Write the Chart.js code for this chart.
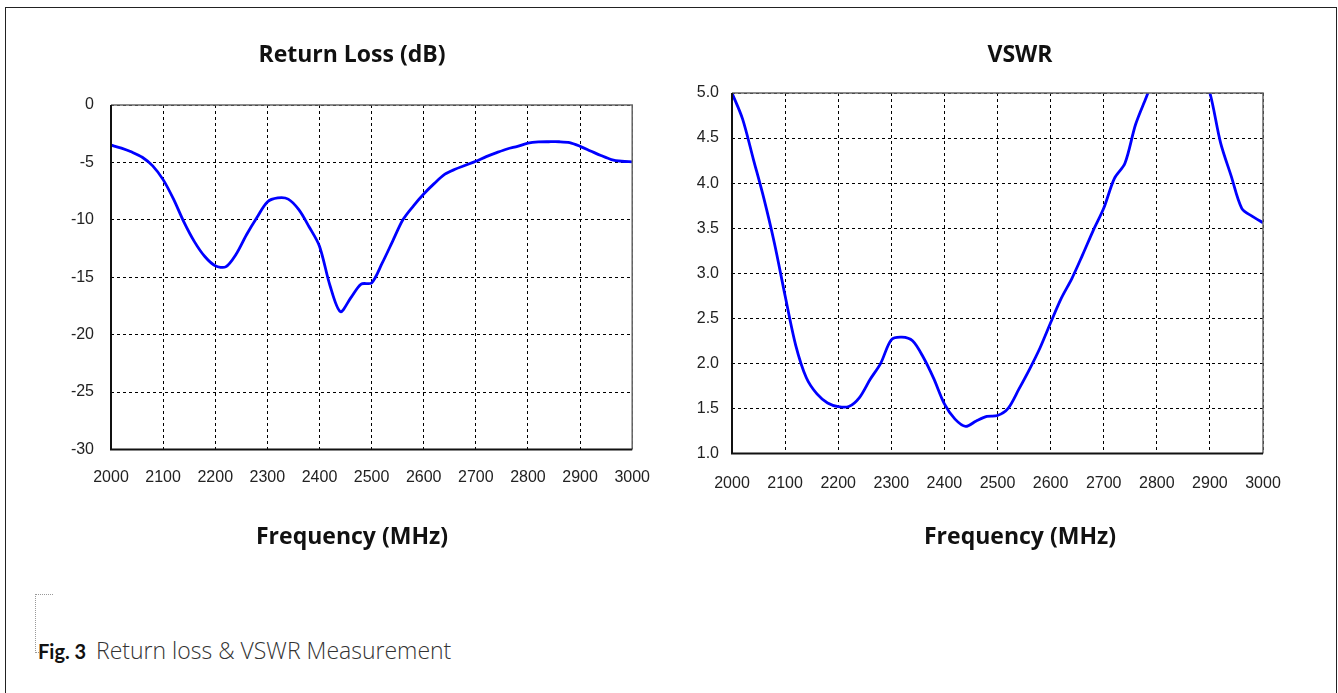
<!DOCTYPE html>
<html>
<head>
<meta charset="utf-8">
<script src="https://cdn.jsdelivr.net/npm/chart.js@4"></script>
<style>
  html, body { margin: 0; padding: 0; background: #fff; overflow: hidden; }
  body { width: 1338px; height: 693px; position: relative; }
  #frame { position: absolute; left: 5px; top: 7px; width: 1330px; height: 720px; border: 1px solid #222; }
  #leftBox { position: absolute; left: 0; top: 0; width: 669px; height: 580px; }
  #rightBox { position: absolute; left: 669px; top: 0; width: 720px; height: 580px; }
  .bracketTop { position: absolute; left: 35px; top: 594px; width: 18px; border-top: 1px dotted #999; }
  .bracketSide { position: absolute; left: 35px; top: 594px; width: 5px; height: 58px; border-left: 1px dotted #999; border-bottom: 1px dotted #999; }
  #caption { position: absolute; left: 38px; top: 637px; line-height: 26px; white-space: nowrap; }
  #caption b { font-family: Lato, sans-serif; font-size: 20px; color: #111; display: inline-block; width: 58px; }
  #caption span { font-family: "Open Sans", sans-serif; font-weight: 300; font-size: 23px; color: #333; }
</style>
</head>
<body>
<div id="frame"></div>
<div id="leftBox"><canvas id="lossChart"></canvas></div>
<div id="rightBox"><canvas id="vswrChart"></canvas></div>
<div class="bracketTop"></div>
<div class="bracketSide"></div>
<div id="caption"><b>Fig. 3</b><span>Return loss &amp; VSWR Measurement</span></div>
<script>
// frequency samples (MHz)
const freqs = [2000, 2020, 2040, 2060, 2080, 2100, 2120, 2140, 2160, 2180,
  2200, 2220, 2240, 2260, 2280, 2300, 2320, 2340, 2360, 2380,
  2400, 2420, 2440, 2460, 2480, 2500, 2520, 2540, 2560, 2580,
  2600, 2620, 2640, 2660, 2680, 2700, 2720, 2740, 2760, 2780,
  2800, 2820, 2840, 2860, 2880, 2900, 2920, 2940, 2960, 2980, 3000];

// return loss (dB)
const returnLoss = [-3.5, -3.75, -4.1, -4.55, -5.3, -6.5, -8.2, -10.2, -11.9, -13.2,
  -14.0, -14.1, -13.0, -11.3, -9.8, -8.45, -8.1, -8.2, -9.1, -10.6,
  -12.3, -15.7, -18.0, -16.8, -15.6, -15.5, -13.8, -11.9, -10.0, -8.8,
  -7.75, -6.85, -6.05, -5.6, -5.25, -4.9, -4.5, -4.15, -3.83, -3.6,
  -3.33, -3.22, -3.2, -3.2, -3.28, -3.6, -4.0, -4.4, -4.75, -4.9, -4.95];

// VSWR (goes off the top of the plot around 2800-2900)
const vswr = [5.0, 4.71, 4.27, 3.83, 3.33, 2.75, 2.2, 1.84, 1.66, 1.56,
  1.52, 1.52, 1.62, 1.82, 2.0, 2.26, 2.29, 2.25, 2.07, 1.83,
  1.55, 1.38, 1.3, 1.36, 1.41, 1.42, 1.5, 1.71, 1.93, 2.17,
  2.45, 2.72, 2.94, 3.2, 3.47, 3.72, 4.05, 4.22, 4.65, 4.95,
  5.25, 5.45, 5.5, 5.5, 5.3, 5.0, 4.45, 4.08, 3.72, 3.63, 3.56];

const freqTicks = [2000, 2100, 2200, 2300, 2400, 2500, 2600, 2700, 2800, 2900, 3000];
const lossTicks = [-30, -25, -20, -15, -10, -5, 0];
const vswrTicks = [1.0, 1.5, 2.0, 2.5, 3.0, 3.5, 4.0, 4.5, 5.0];

const tickFont = { family: 'Liberation Sans, Arial, sans-serif', size: 16 };
const headFont = { family: '"Open Sans", Lato, sans-serif', size: 23, weight: 'bold', lineHeight: 1.2 };

// plot frame: dark left/bottom, grey top/right
const framePlugin = {
  id: 'frame',
  afterDatasetsDraw(chart) {
    const { ctx, chartArea: a } = chart;
    ctx.save();
    ctx.lineWidth = 1.5;
    ctx.strokeStyle = '#666';
    ctx.beginPath();
    ctx.moveTo(a.left, a.top);
    ctx.lineTo(a.right, a.top);
    ctx.lineTo(a.right, a.bottom);
    ctx.stroke();
    ctx.lineWidth = 2;
    ctx.strokeStyle = '#111';
    ctx.beginPath();
    ctx.moveTo(a.left, a.top);
    ctx.lineTo(a.left, a.bottom);
    ctx.lineTo(a.right, a.bottom);
    ctx.stroke();
    ctx.restore();
  }
};

function points(ys) {
  return freqs.map((f, i) => ({ x: f, y: ys[i] }));
}

function makeChart(id, opts) {
  const scales = {
    x: {
      type: 'linear',
      min: 2000,
      max: 3000,
      afterBuildTicks: s => { s.ticks = freqTicks.map(v => ({ value: v })); },
      afterFit: s => { s.height = opts.xHeight; },
      grid: { color: '#000', lineWidth: 1, drawTicks: false },
      border: { display: false, dash: [3, 3] },
      ticks: { color: '#222', font: tickFont, padding: opts.xPad, maxRotation: 0, callback: v => String(v) }
    },
    y: {
      type: 'linear',
      min: opts.yTicks[0],
      max: opts.yTicks[opts.yTicks.length - 1],
      afterBuildTicks: s => { s.ticks = opts.yTicks.map(v => ({ value: v })); },
      afterFit: s => { s.width = opts.yWidth; },
      grid: { color: '#000', lineWidth: 1, drawTicks: false },
      border: { display: false, dash: [3, 3] },
      ticks: { color: '#222', font: tickFont, padding: opts.yPad, callback: opts.yFormat }
    }
  };
  if (opts.rightSpace) {
    // empty axis on the right, only to shift the plot area inside the title box
    scales.pad = {
      position: 'right',
      grid: { display: false },
      border: { display: false },
      ticks: { display: false },
      afterFit: s => { s.width = opts.rightSpace; }
    };
  }
  return new Chart(document.getElementById(id), {
    type: 'line',
    data: {
      datasets: [{
        data: points(opts.values),
        borderColor: '#0000ff',
        borderWidth: 2.8,
        pointRadius: 0,
        tension: 0.3,
        clip: 0
      }]
    },
    options: {
      responsive: true,
      maintainAspectRatio: false,
      animation: false,
      layout: { padding: opts.padding },
      plugins: {
        legend: { display: false },
        tooltip: { enabled: false },
        title: { display: true, text: opts.title, color: '#111', font: headFont, padding: { top: 0, bottom: opts.titleGap } },
        subtitle: { display: true, position: 'bottom', text: 'Frequency (MHz)', color: '#111', font: headFont, padding: 0 }
      },
      scales: scales
    },
    plugins: [framePlugin]
  });
}

makeChart('lossChart', {
  title: 'Return Loss (dB)',
  values: returnLoss,
  yTicks: lossTicks,
  yFormat: v => String(v),
  padding: { left: 64, right: 29, top: 42, bottom: 29 },
  titleGap: 35.4,
  xHeight: 74,
  yWidth: 47,
  xPad: 19,
  yPad: 17
});

makeChart('vswrChart', {
  title: 'VSWR',
  values: vswr,
  yTicks: vswrTicks,
  yFormat: v => v.toFixed(1),
  padding: { left: 0, right: 18, top: 42, bottom: 29 },
  titleGap: 23.4,
  xHeight: 70,
  yWidth: 63,
  rightSpace: 108,
  xPad: 21,
  yPad: 13
});
</script>
</body>
</html>
